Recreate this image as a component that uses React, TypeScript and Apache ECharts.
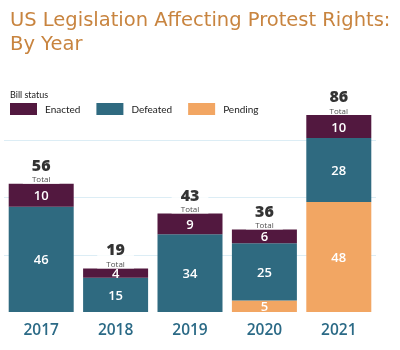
import React, { useEffect, useRef } from "react";
import * as echarts from "echarts";

const years = ["2017", "2018", "2019", "2020", "2021"];
const pending = [0, 0, 0, 5, 48];
const defeated = [46, 15, 34, 25, 28];
const enacted = [10, 4, 9, 6, 10];
const totals = years.map((_, i) => pending[i] + defeated[i] + enacted[i]);

const COLORS = { enacted: "#52183f", defeated: "#2f6a80", pending: "#f2a663" };
const FONT = "'Open Sans', sans-serif";

export default function App() {
  const ref = useRef<HTMLDivElement>(null);
  useEffect(() => {
    if (!ref.current) return;
    const chart = echarts.init(ref.current, null, { renderer: "svg" });
    const segLabel = {
      show: true,
      position: "inside",
      color: "#ffffff",
      fontFamily: FONT,
      fontSize: 13,
      fontWeight: 600,
      lineHeight: 10,
      formatter: (p: any) => (p.value ? String(p.value) : ""),
    };
    chart.setOption({
      animation: false,
      title: [
        {
          text: "US Legislation Affecting Protest Rights:\nBy Year",
          left: 5,
          top: 2,
          textStyle: {
            fontFamily: "'DejaVu Sans', sans-serif",
            fontSize: 19.5,
            fontWeight: "normal",
            color: "#c8843f",
            lineHeight: 24,
          },
        },
        {
          text: "Bill status",
          left: 5,
          top: 85,
          textStyle: { fontFamily: "Lato, sans-serif", fontSize: 9, fontWeight: "normal", color: "#222" },
        },
      ],
      legend: {
        data: ["Enacted", "Defeated", "Pending"],
        left: 5,
        top: 98,
        icon: "rect",
        itemWidth: 27,
        itemHeight: 12,
        itemGap: 16,
        textStyle: { fontFamily: "Lato, sans-serif", fontSize: 10, color: "#222", padding: [0, 0, 0, 3] },
      },
      grid: { left: 4, right: 24, top: 83, bottom: 38 },
      xAxis: {
        type: "category",
        data: years,
        axisLine: { show: false },
        axisTick: { show: false },
        axisLabel: { color: "#2b6a86", fontFamily: FONT, fontSize: 15.5, fontWeight: 600, margin: 9 },
      },
      yAxis: {
        type: "value",
        min: 0,
        max: 100,
        interval: 25,
        axisLabel: { show: false },
        axisLine: { show: false },
        axisTick: { show: false },
        splitLine: { show: true, showMinLine: false, showMaxLine: false, lineStyle: { color: "#dcedf5", width: 1 } },
      },
      series: [
        { name: "Pending", type: "bar", stack: "s", barWidth: 65, data: pending, itemStyle: { color: COLORS.pending }, label: segLabel },
        { name: "Defeated", type: "bar", stack: "s", barWidth: 65, data: defeated, itemStyle: { color: COLORS.defeated }, label: segLabel },
        { name: "Enacted", type: "bar", stack: "s", barWidth: 65, data: enacted, itemStyle: { color: COLORS.enacted }, label: segLabel },
        {
          name: "Total",
          type: "scatter",
          data: totals,
          symbolSize: 0,
          silent: true,
          z: 5,
          label: {
            show: true,
            position: "top",
            distance: 0,
            backgroundColor: "#ffffff",
            padding: [0, 9, 0, 9],
            formatter: (p: any) => `{n|${p.value}}\n{t|Total}`,
            rich: {
              n: { fontFamily: FONT, fontSize: 16, fontWeight: 800, color: "#000", lineHeight: 18, align: "center" },
              t: { fontFamily: FONT, fontSize: 8, color: "#222", lineHeight: 10, align: "center" },
            },
          },
        },
      ],
    });
    return () => chart.dispose();
  }, []);
  return <div ref={ref} style={{ position: "fixed", left: 0, top: 0, width: 400, height: 350 }} />;
}
